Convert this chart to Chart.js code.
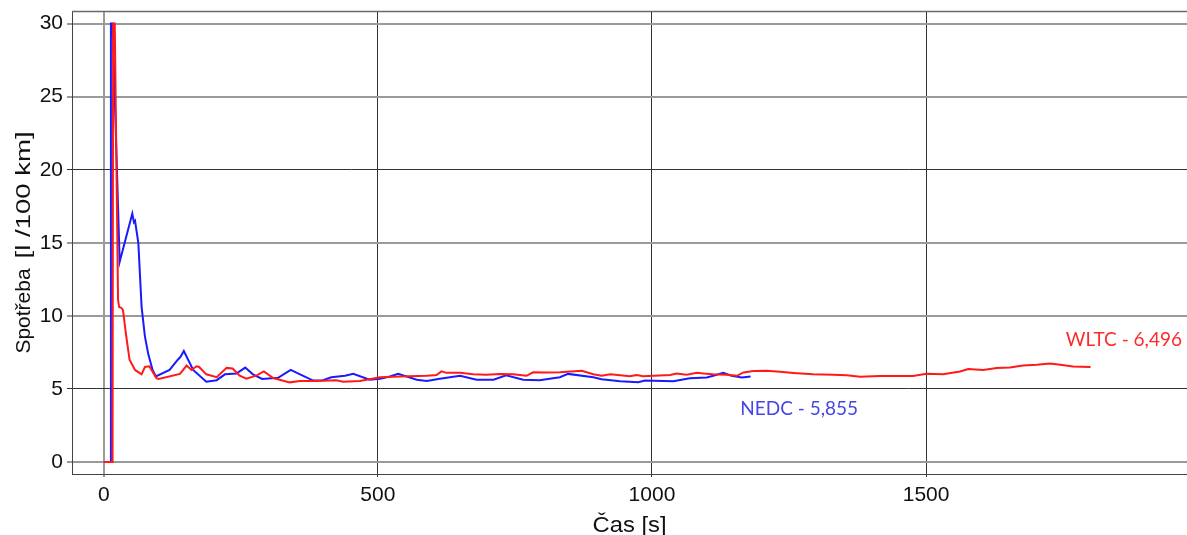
<!DOCTYPE html>
<html>
<head>
<meta charset="utf-8">
<title>Spotřeba paliva – NEDC a WLTC</title>
<script src="https://cdn.jsdelivr.net/npm/chart.js@4/dist/chart.umd.min.js"></script>
<style>
  html, body { margin: 0; padding: 0; background: #fff; overflow: hidden; }
  #wrap { width: 1187px; height: 535px; position: relative; }
</style>
</head>
<body>
<div id="wrap"><canvas id="c" width="1187" height="535"></canvas></div>
<script>
// Cyklus NEDC: čas [s] a průběžná spotřeba [l/100 km]
const nedcTime = [0, 12, 13, 16, 29, 52, 55, 57, 63, 69, 75, 81, 89, 95, 120, 135, 140, 146, 163, 187, 206, 221, 242, 258, 272, 289, 318, 341, 358, 382, 400, 415, 440, 455, 485, 504, 522, 537, 571, 589, 613, 650, 680, 711, 734, 765, 795, 832, 847, 893, 908, 942, 975, 987, 1039, 1069, 1100, 1115, 1130, 1145, 1164, 1180];
const nedcFuel = [0, 0, 30, 30, 13.7, 17.0, 16.4, 16.5, 15.0, 10.6, 8.6, 7.4, 6.3, 5.85, 6.3, 7.0, 7.2, 7.6, 6.3, 5.5, 5.6, 6.0, 6.05, 6.46, 6.0, 5.68, 5.76, 6.3, 6.0, 5.57, 5.6, 5.8, 5.9, 6.03, 5.63, 5.7, 5.85, 6.03, 5.63, 5.55, 5.7, 5.9, 5.63, 5.63, 5.93, 5.63, 5.6, 5.8, 6.03, 5.8, 5.66, 5.53, 5.46, 5.57, 5.53, 5.73, 5.78, 5.94, 6.1, 5.9, 5.78, 5.855];

// Cyklus WLTC: čas [s] a průběžná spotřeba [l/100 km]
const wltcTime = [0, 16, 17, 20, 26, 28, 32, 35, 41, 47, 57, 69, 75, 83, 96, 100, 139, 151, 160, 169, 174, 187, 206, 224, 235, 248, 260, 279, 292, 309, 324, 339, 358, 388, 424, 437, 467, 504, 540, 589, 607, 616, 625, 650, 674, 698, 722, 747, 771, 783, 808, 832, 872, 893, 908, 924, 960, 972, 984, 1033, 1045, 1063, 1082, 1094, 1111, 1136, 1155, 1167, 1185, 1209, 1234, 1258, 1294, 1331, 1355, 1380, 1416, 1476, 1501, 1531, 1562, 1577, 1604, 1629, 1653, 1677, 1702, 1726, 1745, 1768, 1800];
const wltcFuel = [0, 0, 30, 30, 11.1, 10.6, 10.55, 10.4, 8.6, 7.0, 6.3, 6.0, 6.5, 6.55, 5.73, 5.68, 6.03, 6.6, 6.3, 6.55, 6.5, 6.0, 5.8, 6.44, 6.4, 5.9, 5.7, 5.93, 6.2, 5.75, 5.6, 5.45, 5.55, 5.55, 5.6, 5.5, 5.55, 5.8, 5.85, 5.9, 5.95, 6.2, 6.1, 6.1, 6.0, 5.97, 6.02, 6.0, 5.9, 6.14, 6.13, 6.14, 6.25, 6.0, 5.9, 6.0, 5.87, 5.95, 5.87, 5.95, 6.05, 5.97, 6.1, 6.05, 6.0, 5.97, 5.9, 6.13, 6.22, 6.24, 6.17, 6.09, 6.0, 5.97, 5.93, 5.84, 5.89, 5.89, 6.04, 6.0, 6.2, 6.37, 6.3, 6.43, 6.47, 6.6, 6.65, 6.74, 6.65, 6.53, 6.496];

// Popisky a hodnoty os
const xTickValues = [0, 500, 1000, 1500];
const yTickValues = [0, 5, 10, 15, 20, 25, 30];
const xTitle = 'Čas [s]';
const yTitleParts = ['Spotřeba', '[l /100 km]'];
const seriesLabels = [
  { text: 'WLTC - 6,496', x: 1755, y: 8.36, color: '#ff2a2a' },
  { text: 'NEDC - 5,855', x: 1161, y: 3.63, color: '#4646e6' }
];

const toPoints = (xs, ys) => xs.map((x, i) => ({ x, y: ys[i] }));

// Grid line styling per tick value (some lines are drawn darker/thinner)
const darkX = new Set([500, 1000, 1500]);
const darkY = new Set([5, 20]);
const FONT = '"Liberation Sans", Arial, sans-serif';

// Top frame line, axis titles and the free-standing series labels
const framePlugin = {
  id: 'frameAndLabels',
  afterDraw(chart) {
    const { ctx, chartArea, scales } = chart;
    ctx.save();
    ctx.strokeStyle = '#6a6a6a';
    ctx.lineWidth = 1.5;
    ctx.beginPath();
    ctx.moveTo(chartArea.left, chartArea.top + 0.5);
    ctx.lineTo(chartArea.right, chartArea.top + 0.5);
    ctx.stroke();

    // y axis title, rotated; the unit part is set slightly wider
    ctx.fillStyle = '#111';
    ctx.font = '21px ' + FONT;
    ctx.textBaseline = 'middle';
    ctx.textAlign = 'left';
    const w1 = ctx.measureText(yTitleParts[0]).width;
    const w2raw = ctx.measureText(yTitleParts[1]).width;
    const w2 = 127;
    const gap = 10;
    const total = w1 + gap + w2;
    ctx.translate(24, (chartArea.top + chartArea.bottom) / 2);
    ctx.rotate(-Math.PI / 2);
    ctx.fillText(yTitleParts[0], -total / 2, 0);
    ctx.translate(-total / 2 + w1 + gap, 0);
    ctx.scale(w2 / w2raw, 1);
    ctx.fillText(yTitleParts[1], 0, 0);
    ctx.setTransform(1, 0, 0, 1, 0, 0);

    // x axis title
    ctx.font = '22px ' + FONT;
    ctx.textAlign = 'center';
    const cx = (chartArea.left + chartArea.right) / 2;
    const wx = ctx.measureText(xTitle).width;
    ctx.translate(cx, 526);
    ctx.scale(74 / wx, 1);
    ctx.fillText(xTitle, 0, 0);
    ctx.setTransform(1, 0, 0, 1, 0, 0);

    // series labels
    ctx.font = '19px Lato, "Open Sans", sans-serif';
    ctx.textAlign = 'left';
    for (const l of seriesLabels) {
      ctx.fillStyle = l.color;
      ctx.fillText(l.text, scales.x.getPixelForValue(l.x), scales.y.getPixelForValue(l.y));
    }
    ctx.restore();
  }
};

const tickFont = { family: FONT, size: 21 };

new Chart(document.getElementById('c'), {
  type: 'line',
  data: {
    datasets: [
      {
        label: 'WLTC',
        data: toPoints(wltcTime, wltcFuel),
        borderColor: '#ff1a1a',
        borderWidth: 2,
        pointRadius: 0,
        tension: 0,
        fill: false
      },
      {
        label: 'NEDC',
        data: toPoints(nedcTime, nedcFuel),
        borderColor: '#1a1aff',
        borderWidth: 2,
        pointRadius: 0,
        tension: 0,
        fill: false
      }
    ]
  },
  options: {
    responsive: false,
    animation: false,
    events: [],
    layout: { padding: { top: 11, right: 0, left: 0, bottom: 0 } },
    plugins: { legend: { display: false }, tooltip: { enabled: false } },
    scales: {
      x: {
        type: 'linear',
        min: -58,
        max: 1976,
        afterBuildTicks: s => { s.ticks = xTickValues.map(v => ({ value: v })); },
        afterFit: s => { s.height = 61; s.paddingLeft = 0; s.paddingRight = 0; },
        grid: {
          drawTicks: true,
          tickLength: 3,
          color: c => darkX.has(c.tick && c.tick.value) ? '#333' : '#9a9a9a',
          lineWidth: c => darkX.has(c.tick && c.tick.value) ? 1 : 2
        },
        border: { display: true, color: '#444', width: 1 },
        ticks: { color: '#111', font: tickFont, padding: 6, maxRotation: 0, callback: v => String(v) },
        title: { display: false }
      },
      y: {
        type: 'linear',
        min: -0.82,
        max: 30.86,
        afterBuildTicks: s => { s.ticks = yTickValues.map(v => ({ value: v })); },
        afterFit: s => { s.width = 72; s.paddingTop = 0; s.paddingBottom = 0; },
        grid: {
          drawTicks: true,
          tickLength: 5,
          color: c => darkY.has(c.tick && c.tick.value) ? '#333' : '#9a9a9a',
          lineWidth: c => darkY.has(c.tick && c.tick.value) ? 1 : 2
        },
        border: { display: true, color: '#444', width: 1 },
        ticks: { color: '#111', font: tickFont, padding: 4, callback: v => String(v) },
        title: { display: false }
      }
    }
  },
  plugins: [framePlugin]
});
</script>
</body>
</html>
